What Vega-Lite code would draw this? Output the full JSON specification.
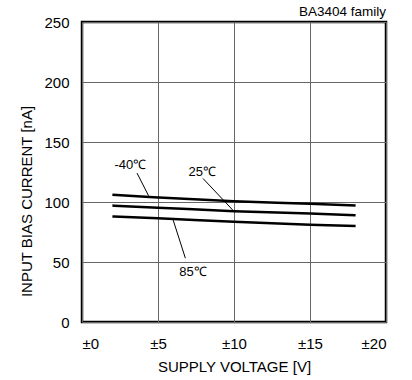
{
  "$schema": "https://vega.github.io/schema/vega-lite/v6.json",
  "width": 304,
  "height": 300,
  "autosize": "none",
  "padding": {"left": 82, "top": 22, "right": 26, "bottom": 58},
  "background": "white",
  "config": {
    "font": "Liberation Sans",
    "view": {"stroke": "black", "strokeWidth": 2.5},
    "axis": {
      "domain": false,
      "ticks": false,
      "grid": true,
      "gridColor": "#666666",
      "gridOpacity": 1,
      "gridWidth": 1,
      "labelFont": "Liberation Sans",
      "labelFontSize": 15,
      "labelColor": "black",
      "titleFont": "Liberation Sans",
      "titleFontSize": 15,
      "titleFontWeight": "normal",
      "titleColor": "black"
    }
  },
  "encoding": {
    "x": {
      "field": "x",
      "type": "quantitative",
      "scale": {"domain": [0, 20], "nice": false},
      "axis": {
        "title": "SUPPLY VOLTAGE [V]",
        "values": [0, 5, 10, 15, 20],
        "labelExpr": "'±' + datum.value",
        "labelPadding": 14,
        "titlePadding": 8
      }
    },
    "y": {
      "field": "y",
      "type": "quantitative",
      "scale": {"domain": [0, 250], "nice": false},
      "axis": {
        "title": "INPUT BIAS CURRENT [nA]",
        "values": [0, 50, 100, 150, 200, 250],
        "labelPadding": 13,
        "titleAngle": -90,
        "titleAlign": "center",
        "titleBaseline": "middle",
        "titleX": -56,
        "titleY": 179
      }
    }
  },
  "layer": [
    {
      "data": {
        "values": [
          {"t": "-40", "x": 2, "y": 106},
          {"t": "-40", "x": 5, "y": 103.8},
          {"t": "-40", "x": 10, "y": 100.6},
          {"t": "-40", "x": 15, "y": 98.5},
          {"t": "-40", "x": 18, "y": 97},
          {"t": "25", "x": 2, "y": 97},
          {"t": "25", "x": 5, "y": 95.3},
          {"t": "25", "x": 10, "y": 92.3},
          {"t": "25", "x": 15, "y": 90.4},
          {"t": "25", "x": 18, "y": 89},
          {"t": "85", "x": 2, "y": 88},
          {"t": "85", "x": 5, "y": 86.4},
          {"t": "85", "x": 10, "y": 83.5},
          {"t": "85", "x": 15, "y": 81},
          {"t": "85", "x": 18, "y": 80}
        ]
      },
      "mark": {"type": "line", "color": "black", "strokeWidth": 2.5, "interpolate": "monotone"},
      "encoding": {"detail": {"field": "t"}}
    },
    {
      "data": {
        "values": [
          {"x": 3.62, "y": 124.1, "x2": 4.38, "y2": 105.2},
          {"x": 7.96, "y": 119.6, "x2": 9.91, "y2": 93.4},
          {"x": 6.0, "y": 84.9, "x2": 6.8, "y2": 53.2}
        ]
      },
      "mark": {"type": "rule", "color": "black", "strokeWidth": 1},
      "encoding": {
        "x2": {"field": "x2"},
        "y2": {"field": "y2"}
      }
    },
    {
      "data": {
        "values": [
          {"label": "-40℃", "x": 3.18, "y": 130.6},
          {"label": "25℃", "x": 7.91, "y": 125},
          {"label": "85℃", "x": 7.3, "y": 41.3}
        ]
      },
      "mark": {"type": "text", "fontSize": 13, "font": "Liberation Sans", "color": "black", "align": "center", "baseline": "middle"},
      "encoding": {"text": {"field": "label"}}
    },
    {
      "data": {
        "values": [
          {"label": "BA3404 family", "x": 20, "y": 250}
        ]
      },
      "mark": {"type": "text", "fontSize": 13.5, "font": "Liberation Sans", "color": "black", "align": "right", "baseline": "alphabetic", "dy": -6},
      "encoding": {"text": {"field": "label"}}
    }
  ]
}
